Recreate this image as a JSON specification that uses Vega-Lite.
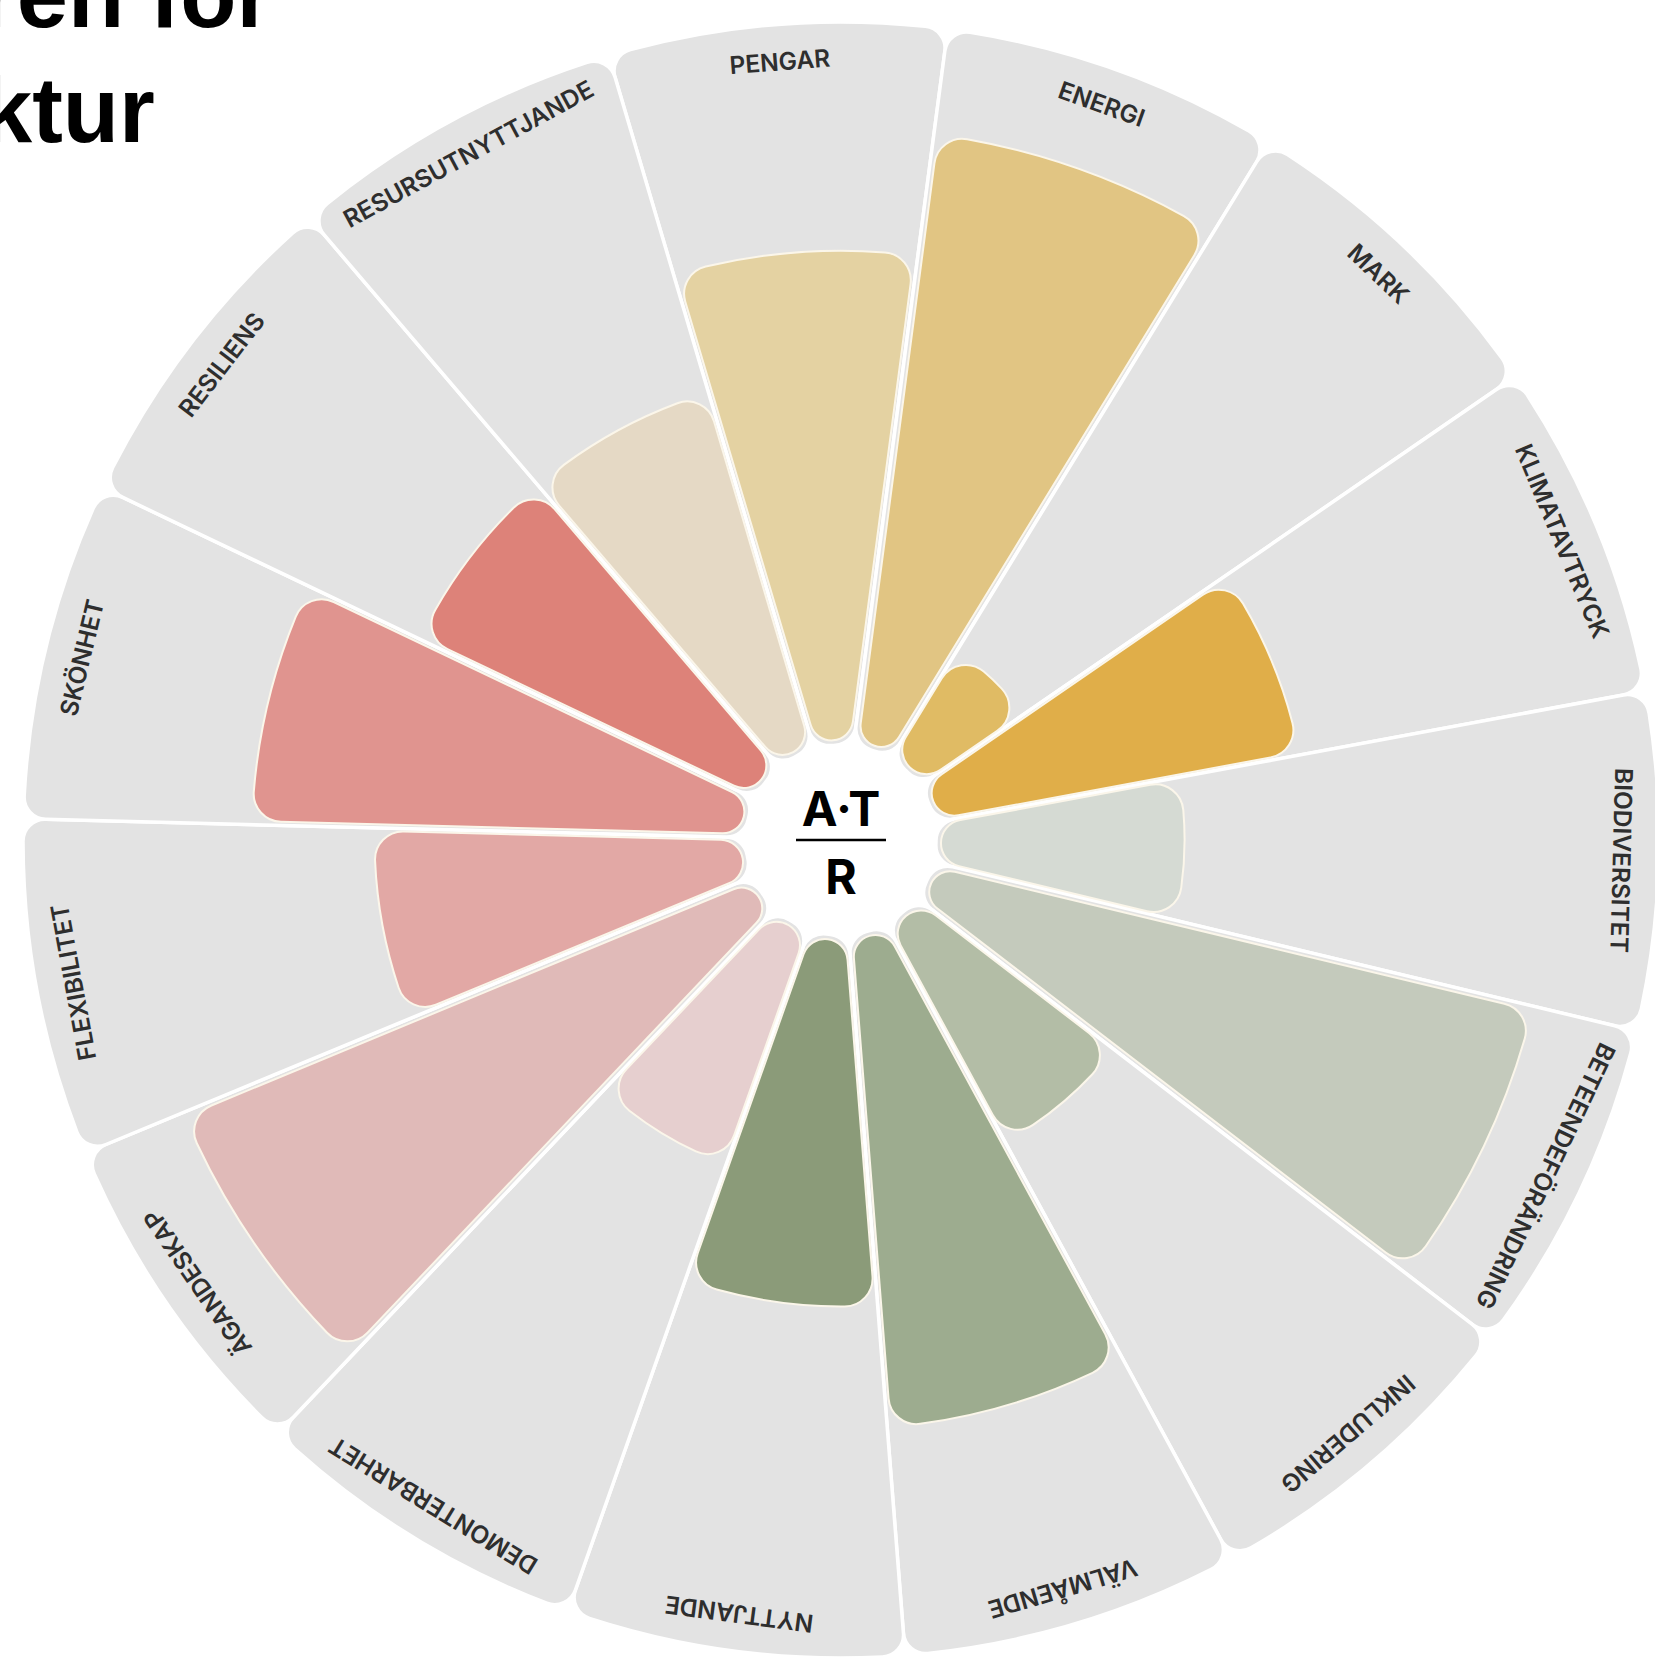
{
  "$schema": "https://vega.github.io/schema/vega-lite/v6.json",
  "autosize": {"type": "none"},
  "width": 1630,
  "height": 1640,
  "padding": {"left": 26, "top": 20, "right": 0, "bottom": 5},
  "background": "white",
  "title": {
    "text": ["ren för", "ktur"],
    "anchor": "start",
    "frame": "group",
    "orient": "top",
    "offset": 0,
    "dx": -45,
    "dy": 219,
    "font": "Liberation Sans",
    "fontSize": 92,
    "fontWeight": "bold",
    "color": "#000000",
    "lineHeight": 115,
    "baseline": "alphabetic"
  },
  "config": {"view": {"stroke": null}},
  "datasets": {
    "wheel": [
      {"cat": "PENGAR", "order": 1, "score": 4},
      {"cat": "ENERGI", "order": 2, "score": 5},
      {"cat": "MARK", "order": 3, "score": 1},
      {"cat": "KLIMATAVTRYCK", "order": 4, "score": 3},
      {"cat": "BIODIVERSITET", "order": 5, "score": 2},
      {"cat": "BETEENDEFÖRÄNDRING", "order": 6, "score": 5},
      {"cat": "INKLUDERING", "order": 7, "score": 2},
      {"cat": "VÄLMÅENDE", "order": 8, "score": 4},
      {"cat": "NYTTJANDE", "order": 9, "score": 3},
      {"cat": "DEMONTERBARHET", "order": 10, "score": 2},
      {"cat": "ÄGANDESKAP", "order": 11, "score": 5},
      {"cat": "FLEXIBILITET", "order": 12, "score": 3},
      {"cat": "SKÖNHET", "order": 13, "score": 4},
      {"cat": "RESILIENS", "order": 14, "score": 3},
      {"cat": "RESURSUTNYTTJANDE", "order": 15, "score": 3}
    ]
  },
  "layer": [
    {
      "data": {"name": "wheel"},
      "mark": {"type": "arc", "radius": 818, "radius2": 95, "cornerRadius": 22, "color": "#e3e3e3", "stroke": "#ffffff", "strokeWidth": 3.5},
      "encoding": {
        "theta": {"aggregate": "count", "type": "quantitative", "stack": true, "scale": {"domain": [0, 15], "range": [-0.288, 5.9952]}},
        "order": {"field": "order", "type": "quantitative"},
        "detail": {"field": "cat", "type": "nominal"}
      }
    },
    {
      "data": {"name": "wheel"},
      "transform": [
        {"aggregate": [{"op": "count", "as": "n"}], "groupby": ["cat", "order", "score"]},
        {"stack": "n", "groupby": [], "sort": [{"field": "order", "order": "ascending"}], "as": ["t0", "t1"]}
      ],
      "mark": {"type": "arc", "radius2": 100, "cornerRadius": 28, "padAngle": 0.012, "stroke": "#fbf6ea", "strokeWidth": 2},
      "encoding": {
        "theta": {"field": "t0", "type": "quantitative", "stack": null, "scale": {"domain": [0, 15], "range": [-0.288, 5.9952]}},
        "theta2": {"field": "t1"},
        "radius": {"field": "score", "type": "quantitative", "scale": {"type": "linear", "domain": [0, 5], "range": [98, 712], "zero": false}},
        "color": {
          "field": "cat", "type": "nominal", "legend": null,
          "scale": {
            "domain": ["PENGAR", "ENERGI", "MARK", "KLIMATAVTRYCK", "BIODIVERSITET", "BETEENDEFÖRÄNDRING", "INKLUDERING", "VÄLMÅENDE", "NYTTJANDE", "DEMONTERBARHET", "ÄGANDESKAP", "FLEXIBILITET", "SKÖNHET", "RESILIENS", "RESURSUTNYTTJANDE"],
            "range": ["#e4d2a2", "#e1c583", "#e0bb64", "#e0ae49", "#d5dad3", "#c4cabc", "#b3bda6", "#9dac8f", "#8b9b79", "#e6cfcf", "#e0bab8", "#e2a8a5", "#e0948f", "#dd8279", "#e5d9c5"]
          }
        }
      }
    },
    {
      "data": {"name": "wheel"},
      "mark": {"type": "text", "radius": 779, "font": "Inter", "fontWeight": 600, "fontSize": 24.5, "color": "#2e2e2e", "baseline": "middle", "align": "center"},
      "encoding": {
        "theta": {"aggregate": "count", "type": "quantitative", "stack": true, "scale": {"domain": [0, 15], "range": [-0.288, 5.9952]}},
        "order": {"field": "order", "type": "quantitative"},
        "detail": {"field": "cat", "type": "nominal"},
        "text": {"field": "cat", "type": "nominal"},
        "angle": {"field": "order", "type": "quantitative", "scale": {"domain": [1, 15], "range": [-4.5, 331.5]}}
      }
    },
    {
      "data": {"values": [{"t": "A·T"}]},
      "mark": {"type": "text", "font": "Inter", "fontWeight": "bold", "fontSize": 48, "color": "#000000", "baseline": "middle", "align": "center", "dy": -28},
      "encoding": {"text": {"field": "t", "type": "nominal"}}
    },
    {
      "data": {"values": [{"t": "R"}]},
      "mark": {"type": "text", "font": "Inter", "fontWeight": "bold", "fontSize": 48, "color": "#000000", "baseline": "middle", "align": "center", "dy": 40},
      "encoding": {"text": {"field": "t", "type": "nominal"}}
    },
    {
      "data": {"values": [{"t": "line"}]},
      "mark": {"type": "point", "shape": "M-1,-0.03H1V0.03H-1Z", "size": 8100, "filled": true, "color": "#000000", "opacity": 1, "strokeWidth": 0},
      "encoding": {}
    }
  ]
}
